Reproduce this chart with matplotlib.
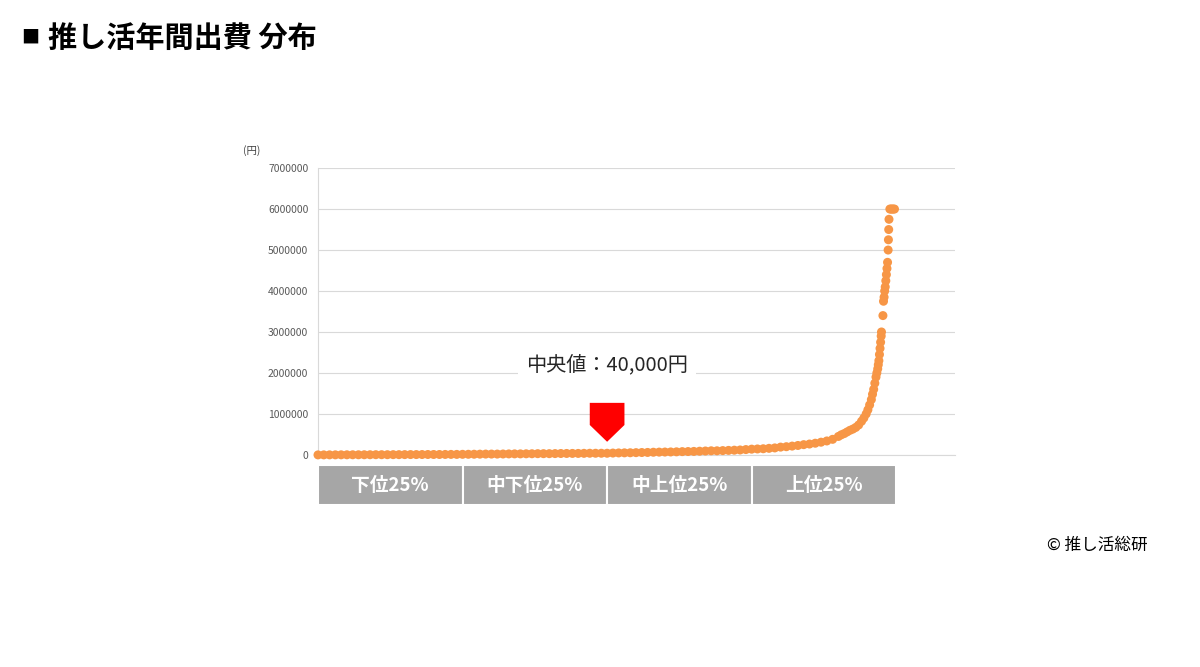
import matplotlib.pyplot as plt
from matplotlib.patches import Rectangle, Polygon
from matplotlib.transforms import blended_transform_factory

plt.rcParams['font.family'] = ['Noto Sans CJK JP', 'DejaVu Sans']

# percentile rank of respondent (sorted) and annual spending (yen)
percentile = [
    0, 1, 2, 3, 4, 5, 6, 7, 8, 9, 10, 11, 12, 13, 14, 15, 16, 17, 18, 19,
    20, 21, 22, 23, 24, 25, 26, 27, 28, 29, 30, 31, 32, 33, 34, 35, 36, 37, 38, 39,
    40, 41, 42, 43, 44, 45, 46, 47, 48, 49, 50, 51, 52, 53, 54, 55, 56, 57, 58, 59,
    60, 61, 62, 63, 64, 65, 66, 67, 68, 69, 70, 71, 72, 73, 74, 75, 76, 77, 78, 79,
    80, 81, 82, 83, 84, 85, 86, 87, 88, 89, 90, 90.5, 91, 91.5, 92, 92.5, 93, 93.5,
    94, 94.4, 94.8, 95.1, 95.4, 95.7, 95.9, 96.1, 96.3, 96.5, 96.65, 96.8, 96.9, 97.0,
    97.1, 97.2, 97.3, 97.4, 97.45, 97.7, 97.8, 97.9, 98.0, 98.1, 98.2, 98.3, 98.4, 98.5,
    98.6, 98.65, 98.7, 98.75, 98.9, 99.1, 99.3, 99.5, 99.7,
]
spending = [
    0, 500, 1000, 1500, 2000, 2500, 3000, 3000, 3500, 4000, 5000, 5000, 5000, 6000, 6000,
    7000, 8000, 8000, 9000, 10000, 10000, 10000, 11000, 12000, 12000, 14000, 15000, 16000,
    18000, 20000, 20000, 20000, 22000, 24000, 25000, 25000, 27000, 28000, 30000, 30000,
    30000, 32000, 34000, 35000, 36000, 36000, 38000, 40000, 40000, 40000, 40000, 45000,
    48000, 50000, 52000, 55000, 58000, 60000, 65000, 68000, 70000, 72000, 75000, 80000,
    82000, 85000, 90000, 95000, 100000, 100000, 105000, 110000, 115000, 120000, 130000,
    140000, 145000, 150000, 160000, 170000, 190000, 200000, 215000, 230000, 250000, 265000,
    285000, 310000, 340000, 380000, 450000, 490000, 520000, 560000, 600000, 630000, 670000,
    730000, 820000, 900000, 1000000, 1100000, 1220000, 1350000, 1480000, 1600000, 1750000,
    1900000, 2000000, 2100000, 2200000, 2300000, 2450000, 2600000, 2750000, 2900000,
    3000000, 3400000, 3750000, 3850000, 4000000, 4100000, 4250000, 4400000, 4550000,
    4700000, 5000000, 5250000, 5500000, 5750000, 6000000, 6000000, 6000000, 6000000, 6000000,
]

quartile_labels = ['下位25%', '中下位25%', '中上位25%', '上位25%']
quartile_edges = [0, 25, 50, 75, 100]
median_pct = 50
median_label = '中央値：40,000円'
y_ticks = [0, 1000000, 2000000, 3000000, 4000000, 5000000, 6000000, 7000000]

fig = plt.figure(figsize=(12, 6.67), dpi=100)
ax = fig.add_axes([0.265, 0.318, 0.531, 0.430])

ax.scatter(percentile, spending, s=42, color='#F79646', edgecolors='none',
           zorder=3, clip_on=False)

ax.set_xlim(0, 110.2)
ax.set_ylim(0, 7000000)
ax.set_yticks(y_ticks)
ax.set_yticklabels([str(v) for v in y_ticks], fontsize=7.5, color='#595959')
ax.set_xticks([])
ax.tick_params(axis='y', length=0, pad=7)
ax.grid(axis='y', color='#D9D9D9', linewidth=0.8)
ax.set_axisbelow(True)
for side in ['top', 'right']:
    ax.spines[side].set_visible(False)
for side in ['left', 'bottom']:
    ax.spines[side].set_color('#D9D9D9')
    ax.spines[side].set_linewidth(0.8)

ax.text(-0.118, 1.06, '(円)', transform=ax.transAxes, fontsize=7.5,
        color='#404040', ha='left', va='center')

# quartile boxes under the x axis
trans = blended_transform_factory(ax.transData, ax.transAxes)
for lab, x0, x1 in zip(quartile_labels, quartile_edges[:-1], quartile_edges[1:]):
    ax.add_patch(Rectangle((x0, -0.174), x1 - x0, 0.139, transform=trans,
                           facecolor='#A6A6A6', edgecolor='white', linewidth=1.5,
                           clip_on=False))
    ax.text((x0 + x1) / 2, -0.105, lab, transform=trans, ha='center', va='center',
            fontsize=13.5, fontweight='bold', color='white')

# median marker
w = 3.0
arrow = Polygon([(median_pct - w, 1270000), (median_pct + w, 1270000),
                 (median_pct + w, 730000), (median_pct, 320000),
                 (median_pct - w, 730000)],
                closed=True, facecolor='#FF0000', edgecolor='none', zorder=4)
ax.add_patch(arrow)
ax.text(median_pct, 2200000, median_label, ha='center', va='center', fontsize=14.5,
        color='#262626', zorder=5,
        bbox=dict(facecolor='white', edgecolor='none', pad=6))

fig.text(0.018, 0.943, '■', fontsize=13, ha='left', va='center', color='black')
fig.text(0.040, 0.943, '推し活年間出費 分布', fontsize=21, fontweight='bold',
         ha='left', va='center', color='black')
fig.text(0.956, 0.183, '© 推し活総研', fontsize=12, ha='right', va='center',
         color='black')

fig.savefig('out.png', dpi=100)
